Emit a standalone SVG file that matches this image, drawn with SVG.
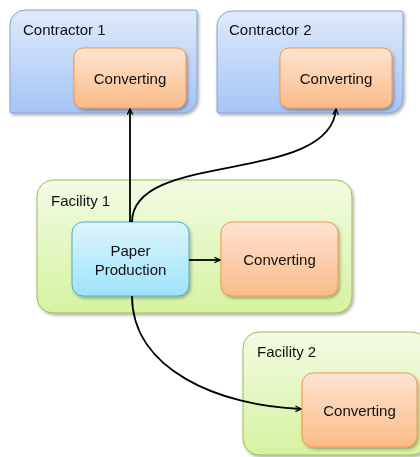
<svg xmlns="http://www.w3.org/2000/svg" width="420" height="457" viewBox="0 0 420 457">
<defs>
<linearGradient id="gBlue" x1="0" y1="0" x2="0" y2="1"><stop offset="0" stop-color="#dfeafb"/><stop offset="1" stop-color="#a5c4f6"/></linearGradient>
<linearGradient id="gOrange" x1="0" y1="0" x2="0" y2="1"><stop offset="0" stop-color="#fde4d2"/><stop offset="1" stop-color="#fbbb88"/></linearGradient>
<linearGradient id="gGreen" x1="0" y1="0" x2="0" y2="1"><stop offset="0" stop-color="#f3fbe4"/><stop offset="1" stop-color="#d5f3a0"/></linearGradient>
<linearGradient id="gCyan" x1="0" y1="0" x2="0" y2="1"><stop offset="0" stop-color="#dcf5fd"/><stop offset="1" stop-color="#9ee3fb"/></linearGradient>
<filter id="sh" x="-10%" y="-10%" width="130%" height="130%"><feDropShadow dx="1.5" dy="2" stdDeviation="1.5" flood-color="#000" flood-opacity="0.3"/></filter>
<marker id="ah" viewBox="0 0 10 10" refX="9" refY="5" markerWidth="7" markerHeight="7" markerUnits="userSpaceOnUse" orient="auto"><path d="M1,1 L9,5 L1,9" fill="none" stroke="#000" stroke-width="1.8"/></marker>
</defs>
<style>
.blue{fill:url(#gBlue);stroke:#7ea4d8;stroke-width:1}
.org{fill:url(#gOrange);stroke:#f79646;stroke-width:1}
.grn{fill:url(#gGreen);stroke:#9bbb59;stroke-width:1}
.cyn{fill:url(#gCyan);stroke:#4bacc6;stroke-width:1}
text{font-family:"Liberation Sans",Arial,sans-serif;font-size:15px;fill:#111}
.c{text-anchor:middle}
.e{fill:none;stroke:#000;stroke-width:1.8;marker-end:url(#ah)}
</style>
<g id="contractor1" filter="url(#sh)">
<path class="blue" d="M25,10 H195 Q197,10 197,12 V98 A15,15 0 0 1 182,113 H12 Q10,113 10,111 V25 A15,15 0 0 1 25,10 Z"/>
<text x="23" y="35">Contractor 1</text>
</g>
<g id="contractor2" filter="url(#sh)">
<path class="blue" d="M232,11 H401 Q403,11 403,13 V98 A15,15 0 0 1 388,113 H219 Q217,113 217,111 V26 A15,15 0 0 1 232,11 Z"/>
<text x="229" y="35">Contractor 2</text>
</g>
<g id="conv1" filter="url(#sh)">
<rect class="org" x="74" y="48" width="112" height="60" rx="9"/>
<text class="c" x="130" y="84">Converting</text>
</g>
<g id="conv2" filter="url(#sh)">
<rect class="org" x="280" y="48" width="112" height="60" rx="9"/>
<text class="c" x="336" y="84">Converting</text>
</g>
<g id="facility1" filter="url(#sh)">
<rect class="grn" x="37" y="180" width="315" height="133" rx="16"/>
<text x="51" y="206">Facility 1</text>
</g>
<g id="paper" filter="url(#sh)">
<rect class="cyn" x="72" y="222" width="117" height="74" rx="11"/>
<text class="c" x="130.5" y="256">Paper</text>
<text class="c" x="130.5" y="275">Production</text>
</g>
<g id="conv3" filter="url(#sh)">
<rect class="org" x="221" y="222" width="117" height="74" rx="11"/>
<text class="c" x="279.5" y="265">Converting</text>
</g>
<g id="facility2" filter="url(#sh)">
<rect class="grn" x="243" y="332" width="185" height="123" rx="16"/>
<text x="257" y="357">Facility 2</text>
</g>
<g id="conv4" filter="url(#sh)">
<rect class="org" x="302" y="373" width="115" height="74" rx="11"/>
<text class="c" x="359.5" y="416">Converting</text>
</g>
<g id="connectors">
<path class="e" d="M130,222 V109"/>
<path class="e" d="M132,222 C132,150 330,185 336,109"/>
<path class="e" d="M189,260 H220"/>
<path class="e" d="M132,296 C132,370 220,406 301,409"/>
</g>
</svg>
